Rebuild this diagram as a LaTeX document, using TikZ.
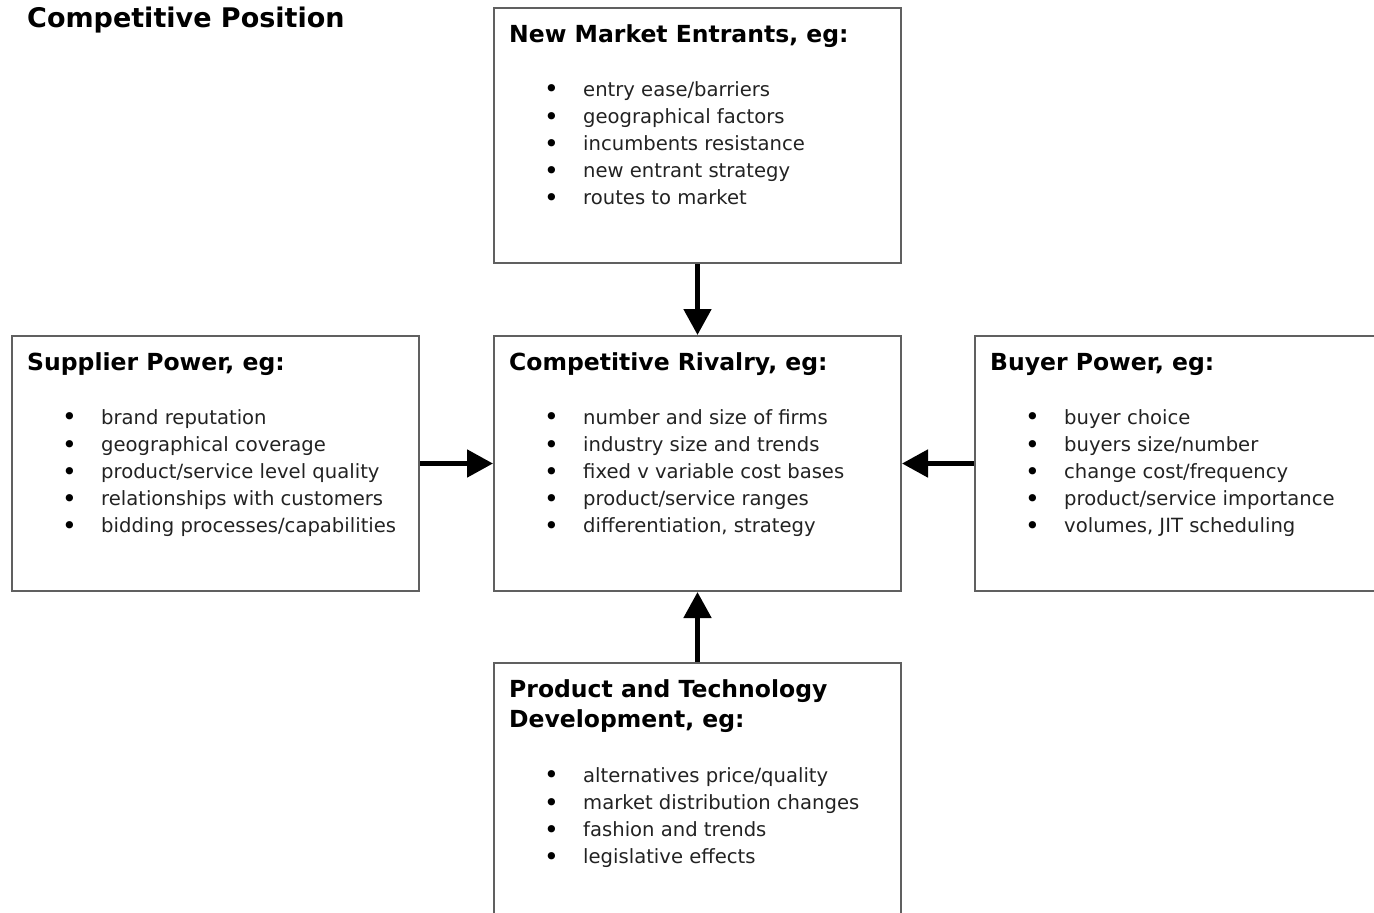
\documentclass[tikz,border=0pt]{standalone}
\usepackage{fontspec}
\setmainfont{DejaVu Sans}
\usetikzlibrary{arrows.meta}
\definecolor{boxgray}{HTML}{606060}
\definecolor{txtgray}{HTML}{222222}
\newcommand\hfnt{\fontsize{23.5}{30}\selectfont\bfseries}
\newcommand\bfnt{\fontsize{19.6}{27.2}\selectfont}
\newcommand\itm[1]{\makebox[74pt][l]{\hspace{35pt}\raisebox{-1.8pt}{\fontsize{25}{27.2}\selectfont\color{black}•}}#1}
\newcommand\blist[1]{\begin{tabular}[t]{@{}l@{}}#1\end{tabular}}
\tikzset{
  fbox/.style={draw=boxgray, line width=2pt, minimum width=407pt, minimum height=255pt, inner sep=0pt, anchor=north west},
  hd/.style={font=\hfnt, text=black, inner sep=0pt, anchor=base west},
  bl/.style={font=\bfnt, text=txtgray, inner sep=0pt, anchor=base west},
  arr/.style={line width=5pt, -{Triangle[width=27pt,length=26pt]}}
}
\begin{document}
\begin{tikzpicture}[x=1pt,y=-1pt]
\useasboundingbox (0,0) rectangle (1374,913);
\clip (0,0) rectangle (1374,913);
\node[font=\fontsize{27}{32}\selectfont\bfseries, inner sep=0pt, anchor=base west] (title) at (27,27) {Competitive Position};
% boxes
\node[fbox] (top) at (493,7) {};
\node[fbox] (mid) at (493,335) {};
\node[fbox] (left) at (11,335) {};
\node[fbox] (right) at (974,335) {};
\node[fbox] (bot) at (493,662) {};
% top
\node[hd] (topH) at (509,42) {New Market Entrants, eg:};
\node[bl] (topL) at (509,96) {\blist{\itm{entry ease/barriers}\\ \itm{geographical factors}\\ \itm{incumbents resistance}\\ \itm{new entrant strategy}\\ \itm{routes to market}}};
% middle
\node[hd] (midH) at (509,370) {Competitive Rivalry, eg:};
\node[bl] (midL) at (509,424) {\blist{\itm{number and size of firms}\\ \itm{industry size and trends}\\ \itm{fixed v variable cost bases}\\ \itm{product/service ranges}\\ \itm{differentiation, strategy}}};
% left
\node[hd] (leftH) at (27,370) {Supplier Power, eg:};
\node[bl] (leftL) at (27,424) {\blist{\itm{brand reputation}\\ \itm{geographical coverage}\\ \itm{product/service level quality}\\ \itm{relationships with customers}\\ \itm{bidding processes/capabilities}}};
% right
\node[hd] (rightH) at (990,370) {Buyer Power, eg:};
\node[bl] (rightL) at (990,424) {\blist{\itm{buyer choice}\\ \itm{buyers size/number}\\ \itm{change cost/frequency}\\ \itm{product/service importance}\\ \itm{volumes, JIT scheduling}}};
% bottom
\node[hd] (botH) at (509,697) {\blist{Product and Technology\\ Development, eg:}};
\node[bl] (botL) at (509,782) {\blist{\itm{alternatives price/quality}\\ \itm{market distribution changes}\\ \itm{fashion and trends}\\ \itm{legislative effects}}};
% arrows
\draw[arr] (top.south) -- (mid.north);
\draw[arr] (left.east) -- (mid.west);
\draw[arr] (right.west) -- (mid.east);
\draw[arr] (bot.north) -- (mid.south);
\end{tikzpicture}
\end{document}
